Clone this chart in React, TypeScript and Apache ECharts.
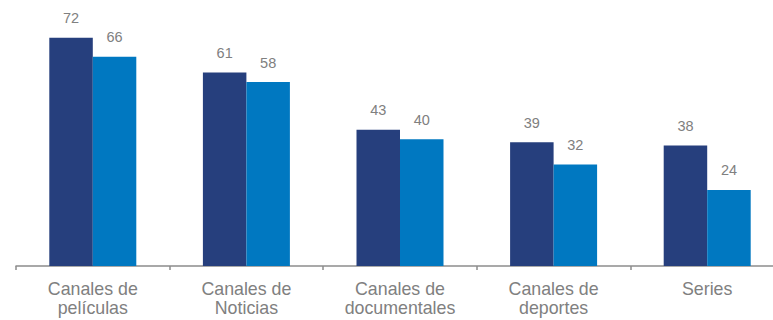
import React, { useEffect, useRef } from "react";
import * as echarts from "echarts";

const categories = ["Canales de\npelículas", "Canales de\nNoticias", "Canales de\ndocumentales", "Canales de\ndeportes", "Series"];
const seriesA = [72, 61, 43, 39, 38];
const seriesB = [66, 58, 40, 32, 24];

export default function App() {
  const ref = useRef<HTMLDivElement>(null);
  useEffect(() => {
    if (!ref.current) return;
    const chart = echarts.init(ref.current, null, { renderer: "svg" });
    const font = "'Liberation Sans', Arial, sans-serif";
    const label = {
      show: true,
      position: "top",
      distance: 12,
      color: "#808080",
      fontSize: 14.5,
      fontFamily: font,
    };
    chart.setOption({
      animation: false,
      grid: { left: 16, right: 16, top: 12.3, bottom: 54 },
      xAxis: {
        type: "category",
        data: categories,
        axisLine: { lineStyle: { color: "#8c8c8c", width: 1.5 } },
        axisTick: { show: true, length: 4, lineStyle: { color: "#8c8c8c", width: 1.5 } },
        axisLabel: {
          color: "#808080",
          fontSize: 17.8,
          fontFamily: font,
          lineHeight: 19.5,
          margin: 13,
          interval: 0,
        },
      },
      yAxis: {
        type: "value",
        min: 0,
        max: 80,
        show: false,
        splitLine: { show: false },
      },
      series: [
        {
          type: "bar",
          data: seriesA,
          barWidth: 43.5,
          barGap: "0%",
          itemStyle: { color: "#263f7d" },
          label,
        },
        {
          type: "bar",
          data: seriesB,
          barWidth: 43.5,
          barGap: "0%",
          itemStyle: { color: "#0078c1" },
          label,
        },
      ],
    });
    return () => chart.dispose();
  }, []);
  return (
    <div style={{ position: "absolute", left: 0, top: 0, width: 773, height: 320, overflow: "hidden" }}>
      <div ref={ref} style={{ width: 800, height: 320 }} />
    </div>
  );
}
